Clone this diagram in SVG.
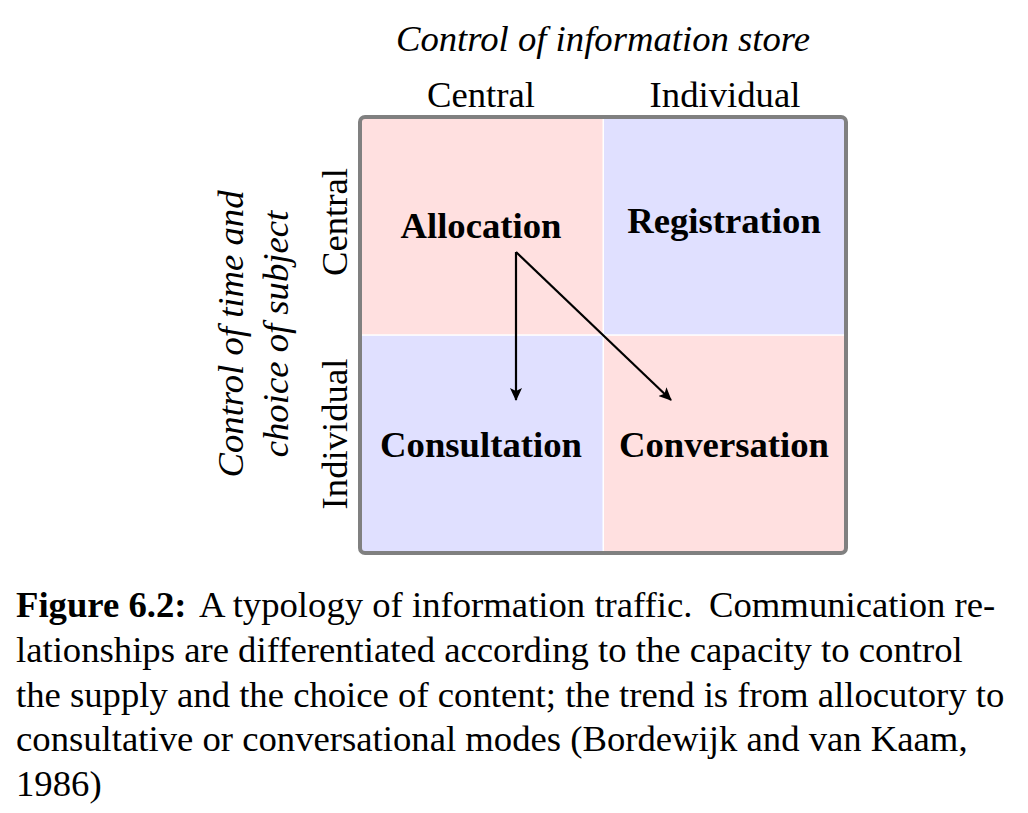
<svg xmlns="http://www.w3.org/2000/svg" width="1028" height="813" viewBox="0 0 1028 813">
<style>
text{font-family:"Liberation Serif","Times New Roman",serif;font-size:36.7px;fill:#000}
.it{font-style:italic}
.b{font-weight:bold}
.m{text-anchor:middle}
.pink{fill:#ffe0e0}
.blue{fill:#e0e0ff}
.conn{stroke:#000;stroke-width:2.2;fill:none;marker-end:url(#ah)}
</style>
<defs>
<marker id="ah" markerWidth="14" markerHeight="12" refX="12" refY="6" orient="auto" markerUnits="userSpaceOnUse">
<path d="M0,0 L13,6 L0,12 L3,6 Z" fill="#000"/>
</marker>
</defs>
<rect width="1028" height="813" fill="#fff"/>
<g id="axis-top">
<text class="it m" x="603" y="51">Control of information store</text>
<text class="m" x="481" y="107">Central</text>
<text class="m" x="725" y="107">Individual</text>
</g>
<g id="axis-left">
<text class="it m" transform="translate(243,334) rotate(-90)">Control of time and</text>
<text class="it m" transform="translate(288,334) rotate(-90)">choice of subject</text>
<text class="m" transform="translate(347,222) rotate(-90)">Central</text>
<text class="m" transform="translate(347,434) rotate(-90)">Individual</text>
</g>
<g id="grid">
<rect x="360" y="117" width="486" height="436" rx="5" fill="#fff"/>
<rect class="pink" x="360" y="117" width="242.5" height="217.3"/>
<rect class="blue" x="604" y="117" width="242" height="217.3"/>
<rect class="blue" x="360" y="335.8" width="242.5" height="217.2"/>
<rect class="pink" x="604" y="335.8" width="242" height="217.2"/>
<rect x="360" y="117" width="486" height="436" rx="5" fill="none" stroke="#808080" stroke-width="4"/>
</g>
<g id="allocation"><text class="b m" x="481" y="238">Allocation</text></g>
<g id="registration"><text class="b m" x="724" y="233">Registration</text></g>
<g id="consultation"><text class="b m" x="481" y="457">Consultation</text></g>
<g id="conversation"><text class="b m" x="724" y="457">Conversation</text></g>
<g id="connectors">
<line class="conn" x1="516" y1="252" x2="516" y2="400"/>
<line class="conn" x1="516" y1="252" x2="671" y2="400"/>
</g>
<g id="caption">
<text x="16" y="617"><tspan class="b">Figure 6.2:</tspan><tspan x="199">A typology of information traffic.</tspan><tspan x="709">Communication re-</tspan></text>
<text x="16" y="662">lationships are differentiated according to the capacity to control</text>
<text x="16" y="707">the supply and the choice of content; the trend is from allocutory to</text>
<text x="16" y="751">consultative or conversational modes (Bordewijk and van Kaam,</text>
<text x="16" y="796">1986)</text>
</g>
</svg>
